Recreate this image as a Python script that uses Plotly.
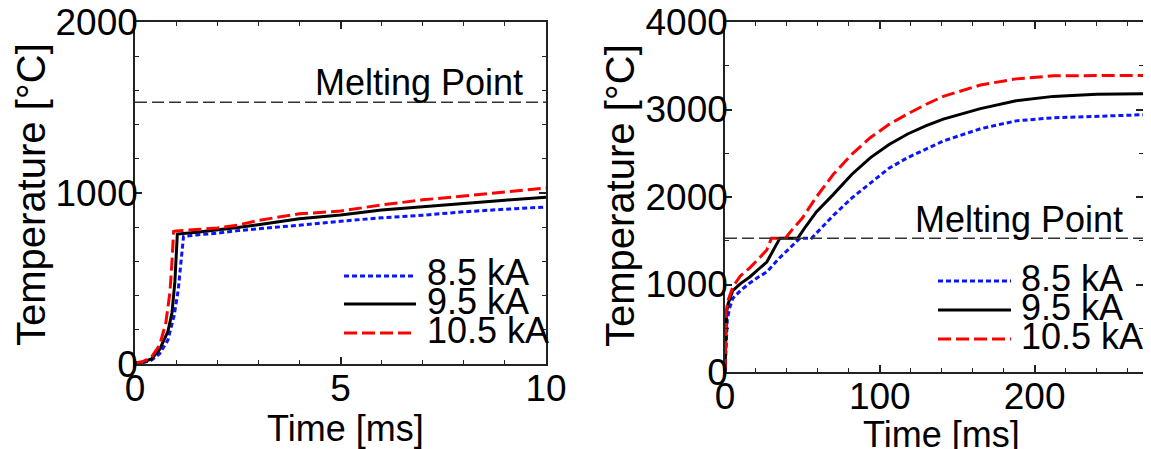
import plotly.graph_objects as go

# ---------------- data ----------------
series_names = ["8.5 kA", "9.5 kA", "10.5 kA"]
melting_point = 1530

# left panel (0-10 ms)
left_t_85 = [0, 0.2, 0.4, 0.6, 0.8, 0.95, 1.05, 1.12, 1.18, 1.5, 2, 2.5, 3, 4, 5, 6, 7, 8, 9, 10]
left_T_85 = [3, 8, 22, 60, 140, 280, 430, 600, 745, 755, 765, 780, 790, 812, 835, 855, 870, 890, 905, 918]
left_t_95 = [0, 0.2, 0.4, 0.6, 0.8, 0.9, 0.97, 1.03, 1.5, 2, 2.5, 3, 4, 5, 6, 7, 8, 9, 10]
left_T_95 = [5, 12, 30, 85, 190, 300, 480, 760, 770, 782, 798, 815, 850, 872, 900, 920, 940, 958, 975]
left_t_105 = [0, 0.2, 0.4, 0.6, 0.75, 0.85, 0.9, 0.94, 1.0, 1.5, 2, 2.5, 3, 4, 5, 6, 7, 8, 9, 10]
left_T_105 = [5, 15, 40, 110, 240, 420, 600, 775, 778, 785, 795, 812, 840, 878, 895, 930, 960, 982, 1008, 1030]

# right panel (0-270 ms)
right_t_85 = [0, 0.5, 1.5, 3, 5, 10, 16, 22, 27, 35, 48.5, 56, 62, 70, 82, 94, 106, 118, 130, 141, 165, 188, 212, 240, 270]
right_T_85 = [0, 250, 600, 730, 840, 930, 1017, 1090, 1143, 1300, 1530, 1530, 1640, 1790, 1990, 2160, 2330, 2450, 2550, 2640, 2780, 2870, 2905, 2925, 2940]
right_t_95 = [0, 0.3, 1, 2, 5, 10, 16, 22, 27, 35.5, 47, 52, 59, 70, 82, 94, 106, 118, 130, 141, 165, 188, 212, 240, 270]
right_T_95 = [0, 350, 680, 780, 930, 1010, 1086, 1180, 1257, 1530, 1530, 1660, 1830, 2030, 2260, 2450, 2600, 2720, 2815, 2890, 3010, 3100, 3150, 3175, 3180]
right_t_105 = [0, 0.3, 0.8, 2, 5, 10, 16, 22, 27, 30, 39, 44, 50, 59, 70, 82, 94, 106, 118, 130, 141, 165, 188, 212, 240, 270]
right_T_105 = [0, 400, 700, 820, 970, 1100, 1190, 1300, 1394, 1530, 1530, 1640, 1760, 2000, 2260, 2490, 2680, 2830, 2950, 3060, 3150, 3280, 3350, 3385, 3390, 3390]

left_xticks = [0, 5, 10]
left_yticks = [0, 1000, 2000]
right_xticks = [0, 100, 200]
right_yticks = [0, 1000, 2000, 3000, 4000]

# ---------------- styles ----------------
OFF = 8                      # page body margin
W, H = 1151 - OFF, 449 - OFF
FONT = "Liberation Sans, Arial, Helvetica, sans-serif"
FS_TICK = 37
FS_TITLE = 40
FS = 36
AX = "#222222"
styles = [
    dict(color="#0a14ff", width=3, dash="5px,3px"),
    dict(color="#000000", width=3, dash="solid"),
    dict(color="#ff0000", width=3, dash="13px,5px"),
]

def px(x):
    return (x - OFF) / W

def py(y):
    return 1 - (y - OFF) / H

fig = go.Figure()

left_data = [(left_t_85, left_T_85), (left_t_95, left_T_95), (left_t_105, left_T_105)]
right_data = [(right_t_85, right_T_85), (right_t_95, right_T_95), (right_t_105, right_T_105)]

for i, (t, T) in enumerate(left_data):
    fig.add_trace(go.Scatter(x=t, y=T, mode="lines", line=styles[i], name=series_names[i],
                             xaxis="x", yaxis="y", showlegend=False))
for i, (t, T) in enumerate(right_data):
    fig.add_trace(go.Scatter(x=t, y=T, mode="lines", line=styles[i], name=series_names[i],
                             xaxis="x2", yaxis="y2", showlegend=False))

# melting point lines
fig.add_trace(go.Scatter(x=[0, 10], y=[melting_point, melting_point], mode="lines",
                         line=dict(color="#333333", width=1.5, dash="12px,5px"),
                         xaxis="x", yaxis="y", showlegend=False))
fig.add_trace(go.Scatter(x=[0, 270], y=[melting_point, melting_point], mode="lines",
                         line=dict(color="#333333", width=1.5, dash="12px,5px"),
                         xaxis="x2", yaxis="y2", showlegend=False))

def axis(domain, rng, tickvals, minor_dtick, anchor, standoff):
    return dict(
        domain=domain, range=rng, tickvals=tickvals, anchor=anchor,
        automargin=False,
        showline=True, linecolor=AX, linewidth=1.5, mirror="allticks",
        ticks="inside", ticklen=7, tickwidth=1.5, tickcolor=AX,
        minor=dict(ticks="inside", dtick=minor_dtick, ticklen=4, tickwidth=1.2,
                   tickcolor=AX, showgrid=False),
        showgrid=False, zeroline=False,
        tickfont=dict(family=FONT, size=FS_TICK, color="black"),
        ticklabelstandoff=standoff,
        ticklabeloverflow="allow",
        fixedrange=True,
    )

L = dict(x0=135, x1=546, y0=22, y1=364)
R = dict(x0=725, x1=1143, y0=22, y1=372)

fig.update_layout(
    width=W, height=H, autosize=False,
    margin=dict(l=0, r=0, t=0, b=0),
    paper_bgcolor="white", plot_bgcolor="white",
    font=dict(family=FONT, size=FS, color="black"),
    xaxis=axis([px(L["x0"]), px(L["x1"])], [0, 10], left_xticks, 1, "y", -9),
    yaxis=axis([py(L["y1"]), py(L["y0"])], [0, 2000], left_yticks, 200, "x", -12),
    xaxis2=axis([px(R["x0"]), px(R["x1"])], [0, 270], right_xticks, 20, "y2", -9),
    yaxis2=axis([py(R["y1"]), py(R["y0"])], [0, 4000], right_yticks, 500, "x2", -12),
)

ann = []
# axis titles
ann.append(dict(text="Temperature [°C]", x=px(31), y=py(195), textangle=-90, size=FS_TITLE))
ann.append(dict(text="Temperature [°C]", x=px(620), y=py(196), textangle=-90, size=FS_TITLE))
ann.append(dict(text="Time [ms]", x=px(345), y=py(428)))
ann.append(dict(text="Time [ms]", x=px(941), y=py(434)))
# melting point labels
ann.append(dict(text="Melting Point", x=px(525), y=py(82), xanchor="right"))
ann.append(dict(text="Melting Point", x=px(1125), y=py(219), xanchor="right"))

shapes = []
legend_pos = [
    dict(x0=344, x1=416, xt=425, ys=[276, 304, 333], yt=[272, 301, 330]),
    dict(x0=938, x1=1011, xt=1019, ys=[281, 310, 339], yt=[278, 307, 336]),
]
for lp in legend_pos:
    for i in range(3):
        shapes.append(dict(type="line", xref="paper", yref="paper",
                           x0=px(lp["x0"]), x1=px(lp["x1"]), y0=py(lp["ys"][i]), y1=py(lp["ys"][i]),
                           line=dict(color=styles[i]["color"], width=3, dash=styles[i]["dash"])))
        ann.append(dict(text=series_names[i], x=px(lp["xt"]), y=py(lp["yt"][i]), xanchor="left"))

final_ann = []
for a in ann:
    size = a.pop("size", FS)
    a.setdefault("xanchor", "center")
    a.update(xref="paper", yref="paper", yanchor="middle", showarrow=False,
             font=dict(family=FONT, size=size, color="black"))
    final_ann.append(a)
fig.update_layout(annotations=final_ann, shapes=shapes)

fig.write_html("out.html", config={"displayModeBar": False})
